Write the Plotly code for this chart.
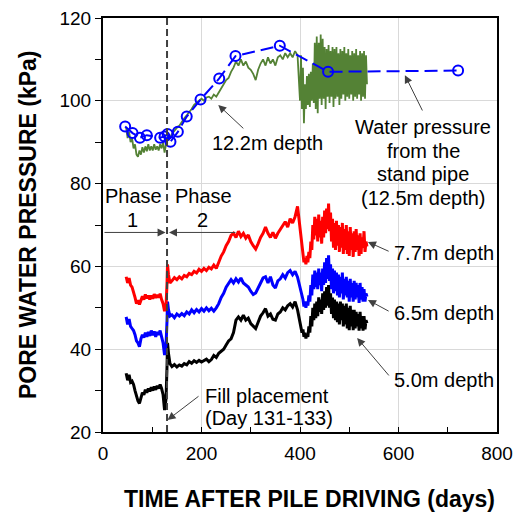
import plotly.graph_objects as go

FONT = "Arial, Liberation Sans, Helvetica, sans-serif"

# ---- time axis of piezometer records (days after pile driving) ----
days = [47, 50, 53, 56, 59, 62, 65, 68, 71, 74, 77, 80, 83, 86, 89, 92, 95, 98, 101, 104,
        107, 110, 113, 116, 119, 122, 125, 128,
        130, 131, 133, 136,
        140, 145, 150, 155, 160, 165, 170, 175, 180, 185, 190, 195, 200, 205, 210, 215, 220, 225,
        230, 235, 240, 245, 250, 255, 260, 265, 270, 275, 280, 285, 290, 295, 300, 305, 310, 315,
        320, 325, 330, 335, 340, 345, 350, 355, 360, 365, 370, 375, 380, 385, 390, 395, 400,
        402, 404, 406, 408, 410, 412, 414, 416, 418, 420, 422, 424, 426, 428, 430, 432, 434, 436,
        438, 440, 442, 444, 446, 448, 450, 452, 454, 456, 458, 460, 462, 464, 466, 468, 470, 472,
        474, 476, 478, 480, 482, 484, 486, 488, 490, 492, 494, 496, 498, 500, 502, 504, 506, 508,
        510, 512, 514, 516, 518, 520, 522, 524, 526, 528, 530, 532, 534, 536]

# 12.2 m depth (kPa)
p_12_2 = [93.5, 91.0, 92.5, 90.0, 91.0, 88.5, 89.5, 87.0, 86.5, 88.0,
          87.0, 88.8, 87.5, 89.0, 87.8, 89.5, 88.0, 89.0, 88.0, 89.5,
          88.2, 89.0, 88.0, 89.5, 88.5, 90.0, 87.5, 89.5,
          90.0, 91.5, 90.5, 91.0,
          92.0, 92.8, 93.5, 94.0, 95.0, 95.8, 96.5, 97.2, 98.0, 99.0,
          99.5, 100.0, 100.5, 100.0, 100.8, 101.0, 100.5, 101.5, 101.0, 102.0,
          103.0, 104.0, 105.0, 105.5, 107.0, 108.0, 109.5, 108.5, 110.0, 108.5,
          109.5, 108.0, 107.5, 106.5, 105.0, 107.5, 109.0, 110.0, 108.5, 110.5,
          109.0, 110.0, 108.5, 110.5, 111.0, 110.0, 111.5, 110.5, 111.5, 110.5,
          112.0, 111.0, 100.0,
          111.0, 98.0, 108.0, 94.6, 104.0,
          98.0, 106.0, 99.0, 106.5, 98.5,
          107.0, 100.0, 109.0, 99.5, 114.0,
          98.0, 115.5, 97.0, 114.0, 100.5,
          116.0, 99.0, 115.0, 100.5, 113.0,
          98.0, 112.5, 101.0, 113.5, 99.5,
          112.0, 101.0, 113.0, 98.5, 112.5,
          100.5, 113.0, 101.0, 111.5, 99.0,
          112.5, 100.5, 112.0, 101.5, 113.0,
          100.0, 111.5, 101.0, 112.5, 100.5,
          111.0, 101.5, 112.0, 100.0, 111.5,
          101.0, 112.5, 100.5, 111.0, 101.5,
          112.0, 100.0, 111.5, 101.0, 112.0,
          100.5, 111.0, 104.0]

# 7.7 m depth (kPa)
p_7_7 = [57.5, 56.0, 57.2, 55.5, 55.0, 54.0, 52.5, 51.0, 51.8, 50.8,
         52.0, 52.8, 52.0, 53.2, 52.3, 53.0, 52.0, 53.0, 52.2, 53.3,
         52.4, 53.1, 52.5, 53.4, 52.0, 51.0, 49.2, 50.5,
         56.0, 60.5, 58.0, 56.0,
         56.5, 57.3, 56.8, 57.5, 57.0, 57.8, 57.5, 58.3, 58.0, 58.8,
         58.4, 59.3, 58.8, 59.5, 59.0, 59.8, 59.4, 60.3, 59.5, 61.0,
         62.5, 63.5, 65.0, 66.0, 67.5, 68.0, 67.0, 68.5, 67.2, 68.0,
         66.8, 67.6, 66.0, 65.0, 64.2, 65.5, 67.0, 68.0, 69.5, 68.0,
         67.0, 68.2, 66.8, 68.0, 69.0, 70.0, 70.8, 69.5, 71.5, 70.5,
         72.0, 74.5, 69.0,
         67.0, 65.0, 62.5, 61.0, 62.0,
         60.5, 62.5, 61.0, 63.5, 62.0,
         66.0, 64.0, 70.0, 66.5, 72.0,
         67.5, 71.5, 66.0, 72.5, 67.0,
         71.0, 65.5, 72.0, 67.0, 73.5,
         68.0, 74.0, 69.0, 75.2, 68.5,
         73.0, 66.0, 71.5, 64.5, 70.5,
         64.0, 71.0, 65.0, 70.0, 63.5,
         69.5, 64.5, 70.5, 63.0, 69.0,
         64.0, 70.0, 63.0, 68.5, 62.5,
         69.5, 64.0, 68.0, 62.3, 68.5,
         63.5, 69.0, 64.0, 67.5, 62.5,
         68.0, 63.0, 67.0, 64.5, 68.5,
         63.5, 66.0, 64.8]

# 6.5 m depth (kPa)
p_6_5 = [47.8, 46.0, 47.3, 45.5, 45.0, 44.5, 43.5, 42.0, 41.5, 40.6,
         42.5, 43.5, 42.8, 44.0, 43.0, 44.2, 43.2, 44.5, 43.4, 44.3,
         43.0, 44.2, 43.5, 44.5, 43.0, 41.5, 38.6, 41.0,
         47.0, 51.5, 49.5, 48.0,
         48.3, 47.6, 48.5, 48.0, 48.6, 48.1, 49.0, 48.5, 49.5, 48.8,
         49.6, 49.0, 49.8, 49.2, 50.0, 49.3, 49.9, 49.2, 50.0, 51.0,
         52.5, 53.5, 55.0, 55.8, 56.8, 56.0, 57.0, 56.2, 57.2, 56.0,
         55.5, 55.0, 54.0, 53.2, 53.6, 55.0, 56.0, 57.2, 57.5, 56.0,
         57.5, 55.5, 54.8, 56.5, 57.0, 58.0, 57.2, 58.5, 59.0, 58.0,
         58.8, 57.4, 55.0,
         54.0, 52.5, 52.0, 50.3, 51.5,
         50.0, 51.5, 50.5, 53.0, 51.5,
         55.5, 53.0, 58.0, 54.5, 59.0,
         55.0, 58.5, 54.5, 59.5, 55.5,
         58.5, 54.0, 59.5, 55.5, 61.0,
         56.0, 62.0, 57.0, 62.7, 56.5,
         60.5, 54.5, 59.5, 53.5, 59.0,
         54.0, 58.5, 53.0, 58.0, 52.5,
         57.5, 53.5, 58.5, 52.0, 57.0,
         53.0, 57.5, 52.5, 56.5, 51.5,
         57.0, 52.5, 56.0, 51.5, 56.5,
         52.0, 56.0, 52.5, 55.5, 51.2,
         56.0, 52.0, 55.0, 51.5, 54.5,
         51.5, 53.5, 52.7]

# 5.0 m depth (kPa)
p_5_0 = [34.2, 32.5, 33.8, 32.0, 32.3, 31.5, 30.0, 28.5, 27.5, 26.9,
         28.5, 29.5, 29.0, 30.2, 29.5, 30.5, 29.8, 30.8, 30.0, 31.0,
         30.2, 31.2, 30.5, 31.5, 30.5, 29.0, 25.3, 28.0,
         36.0, 41.5, 39.0, 36.5,
         35.8, 36.3, 35.7, 36.2, 35.9, 36.5, 36.2, 37.0, 36.6, 37.2,
         36.8, 37.3, 36.9, 37.2, 37.6, 37.0, 37.5, 38.5, 38.0, 39.0,
         39.5, 40.0, 41.0, 42.0, 42.5, 44.0, 47.0, 47.8, 47.0, 48.2,
         47.0, 47.5, 46.2, 45.5, 45.0, 46.5, 48.0, 48.8, 49.8, 48.0,
         48.5, 47.2, 47.0, 48.5, 49.0, 50.0, 49.5, 50.5, 51.0, 50.2,
         51.5, 49.5, 46.5,
         45.0, 44.0, 44.8, 43.0, 44.0,
         42.6, 43.5, 43.0, 45.5, 44.0,
         48.0, 45.5, 50.0, 47.0, 51.0,
         47.5, 51.5, 48.0, 52.5, 49.0,
         52.0, 48.5, 53.5, 49.5, 54.0,
         50.0, 55.0, 50.5, 55.5, 50.0,
         53.5, 48.5, 52.5, 47.5, 52.0,
         47.0, 51.5, 46.5, 51.0, 46.0,
         51.5, 47.0, 51.0, 45.5, 50.5,
         46.0, 51.0, 45.0, 50.0, 44.6,
         50.5, 45.5, 49.5, 44.6, 49.5,
         45.0, 49.0, 45.5, 48.5, 44.5,
         49.0, 45.0, 48.0, 44.5, 48.0,
         44.8, 47.0, 46.3]

# stand pipe readings (12.5 m depth)
pipe_days = [45, 60, 75, 89, 116, 125, 131, 137, 152, 170, 198, 236, 269, 359, 457, 721]
pipe_kpa = [93.8, 92.2, 91.1, 91.7, 91.1, 91.4, 92.0, 90.1, 92.5, 96.2, 100.3, 105.4,
            110.8, 113.3, 107.0, 107.3]

fill_day = 130

x_ticks = [0, 200, 400, 600, 800]
y_ticks = [20, 40, 60, 80, 100, 120]

fig = go.Figure()

for vals, color, w in [(p_5_0, "#000000", 3), (p_6_5, "#0000ff", 3),
                       (p_7_7, "#ff0000", 3), (p_12_2, "#548235", 1.8)]:
    fig.add_trace(go.Scatter(x=days, y=vals, mode="lines",
                             line=dict(color=color, width=w),
                             showlegend=False, hoverinfo="skip"))

fig.add_trace(go.Scatter(x=pipe_days, y=pipe_kpa, mode="lines+markers",
                         line=dict(color="#0000ff", width=2, dash="13px,6px"),
                         marker=dict(symbol="circle-open", size=10, color="#0000ff",
                                     line=dict(width=2, color="#0000ff")),
                         showlegend=False, hoverinfo="skip"))

fig.add_shape(type="line", x0=fill_day, x1=fill_day, y0=20, y1=120, xref="x", yref="y",
              line=dict(color="#404040", width=2, dash="7px,4px"))

ann = []


def txt(x, y, s, xanchor="center"):
    ann.append(dict(x=x, y=y, xref="x", yref="y", text=s, showarrow=False,
                    xanchor=xanchor, yanchor="middle",
                    font=dict(family=FONT, size=20, color="#000000")))


def arrow(x_tail, y_tail, x_head, y_head, color="#404040"):
    ann.append(dict(x=x_head, y=y_head, ax=x_tail, ay=y_tail, xref="x", yref="y",
                    axref="x", ayref="y", text="", showarrow=True, arrowhead=2,
                    arrowsize=1.6, arrowwidth=1, arrowcolor=color, standoff=0,
                    startstandoff=0))


txt(335, 89.8, "12.2m depth")
arrow(288, 93.0, 234, 99.0)

for yy, s in [(93.7, "Water pressure"), (87.8, "from the"), (82.2, "stand pipe"),
              (76.6, "(12.5m depth)")]:
    txt(650, yy, s)
arrow(650, 97.3, 613, 106.2)

txt(692, 63.2, "7.7m depth")
arrow(583, 63.5, 538, 65.9)
txt(692, 48.7, "6.5m depth")
arrow(583, 49.0, 538, 51.9)
txt(692, 32.6, "5.0m depth")
arrow(583, 33.3, 516, 42.7)

txt(203, 28.7, "Fill placement", xanchor="left")
txt(203, 23.4, "(Day 131-133)", xanchor="left")
arrow(197, 28.9, 131, 22.9)

txt(62, 76.9, "Phase")
txt(60, 71.2, "1")
txt(204, 76.9, "Phase")
txt(203, 71.2, "2")
arrow(0, 68.2, 127, 68.2)
arrow(272, 68.2, 134, 68.2)

# axis titles (paper coords relative to the plot area: 394 x 414 px)
ann.append(dict(x=(309 - 103) / 394, y=(432 - 499) / 414, xref="paper", yref="paper",
                text="<b>TIME AFTER PILE DRIVING (days)</b>", showarrow=False,
                xanchor="center", yanchor="middle",
                font=dict(family=FONT, size=23, color="#000000")))
ann.append(dict(x=(28 - 103) / 394, y=0.5, xref="paper", yref="paper",
                text="<b>PORE WATER PRESSURE (kPa)</b>", showarrow=False, textangle=-90,
                xanchor="center", yanchor="middle",
                font=dict(family=FONT, size=23, color="#000000")))

# page body adds an 8 px offset; margins compensate so the plot box sits at 103..497 x 18..432
fig.update_layout(
    width=517, height=505,
    margin=dict(l=95, r=28, t=10, b=81, autoexpand=False),
    paper_bgcolor="white", plot_bgcolor="white",
    font=dict(family=FONT, size=19, color="#000000"),
    annotations=ann,
    showlegend=False,
    xaxis=dict(range=[0, 800], tickvals=x_ticks, showgrid=True, gridcolor="#d9d9d9",
               gridwidth=1, ticks="inside", ticklen=5, tickcolor="#000000",
               minor=dict(dtick=100, ticks="inside", ticklen=5, tickcolor="#000000",
                          showgrid=False),
               showline=True, linecolor="#000000", linewidth=1.5, mirror=True,
               zeroline=False, tickfont=dict(size=19), ticklabelstandoff=3,
               ticklabeloverflow="allow", automargin=False),
    yaxis=dict(range=[20, 120], tickvals=y_ticks, showgrid=True, gridcolor="#d9d9d9",
               gridwidth=1, ticks="outside", ticklen=6, tickcolor="#000000",
               minor=dict(dtick=10, ticks="outside", ticklen=6, tickcolor="#000000",
                          showgrid=False),
               showline=True, linecolor="#000000", linewidth=2, mirror=True,
               zeroline=False, tickfont=dict(size=19), ticklabeloverflow="allow",
               automargin=False),
)

fig.write_html("out.html")
